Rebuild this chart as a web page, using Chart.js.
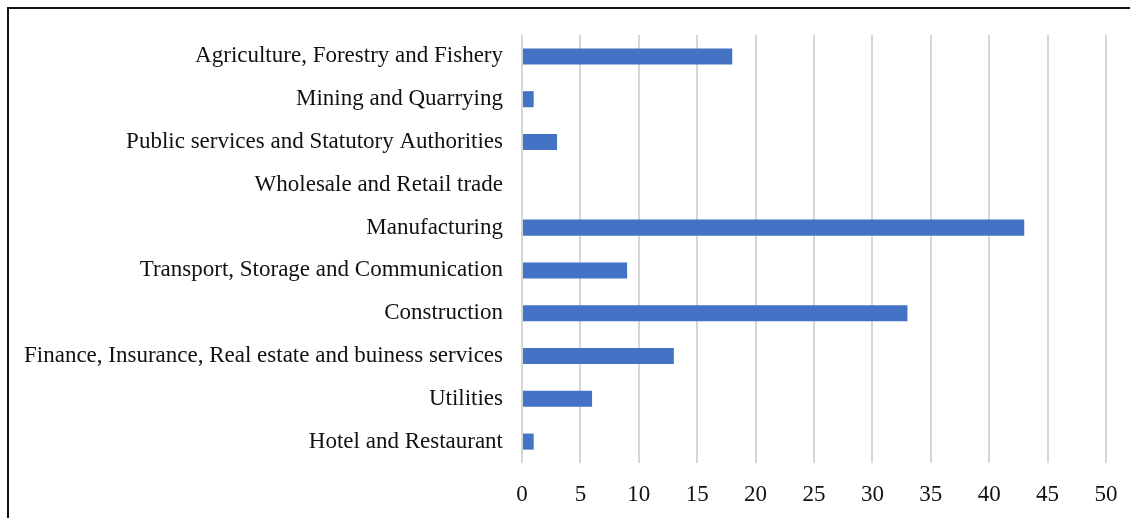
<!DOCTYPE html>
<html>
<head>
<meta charset="utf-8">
<script src="https://cdn.jsdelivr.net/npm/chart.js@4.4.0/dist/chart.umd.min.js"></script>
<style>
  html, body { margin: 0; padding: 0; background: #fff; overflow: hidden; }
  #wrap { position: absolute; left: 0; top: 0; width: 1130px; height: 518px; }
  #frame { position: absolute; left: 7px; top: 7px; width: 1200px; height: 600px;
           border-left: 2px solid #111; border-top: 2px solid #111; box-sizing: border-box; }
  canvas { position: absolute; left: 0; top: 0; }
</style>
</head>
<body>
<div id="wrap">
  <div id="frame"></div>
  <canvas id="c" width="1130" height="518"></canvas>
</div>
<script>
const categories = [
  "Agriculture, Forestry and Fishery",
  "Mining and Quarrying",
  "Public services and Statutory Authorities",
  "Wholesale and Retail trade",
  "Manufacturing",
  "Transport, Storage and Communication",
  "Construction",
  "Finance, Insurance, Real estate and buiness services",
  "Utilities",
  "Hotel and Restaurant"
];
const values = [18, 1, 3, 0, 43, 9, 33, 13, 6, 1];
const xMin = 0, xMax = 50, xStep = 5;

const FONT = "'Liberation Serif', 'Times New Roman', serif";

new Chart(document.getElementById('c'), {
  type: 'bar',
  data: {
    labels: categories,
    datasets: [{
      data: values,
      backgroundColor: '#4472C4',
      borderWidth: 0,
      categoryPercentage: 1.0,
      barPercentage: 0.375
    }]
  },
  options: {
    indexAxis: 'y',
    responsive: false,
    animation: false,
    layout: { padding: { left: 0, right: 24, top: 35, bottom: 0 } },
    plugins: { legend: { display: false }, tooltip: { enabled: false } },
    scales: {
      x: {
        min: xMin, max: xMax,
        ticks: { stepSize: xStep, color: '#111', font: { family: FONT, size: 23 }, padding: 18 },
        grid: { color: '#d6d6d6', lineWidth: 2, drawTicks: false },
        border: { display: false },
        afterFit: (s) => { s.height = 55; s.paddingLeft = 0; s.paddingRight = 0; }
      },
      y: {
        ticks: { color: '#111', font: { family: FONT, size: 23 }, padding: 19, autoSkip: false },
        grid: { display: false, drawTicks: false },
        border: { display: false },
        afterFit: (s) => { s.width = 522; s.paddingTop = 0; s.paddingBottom = 0; }
      }
    }
  }
});
</script>
</body>
</html>
